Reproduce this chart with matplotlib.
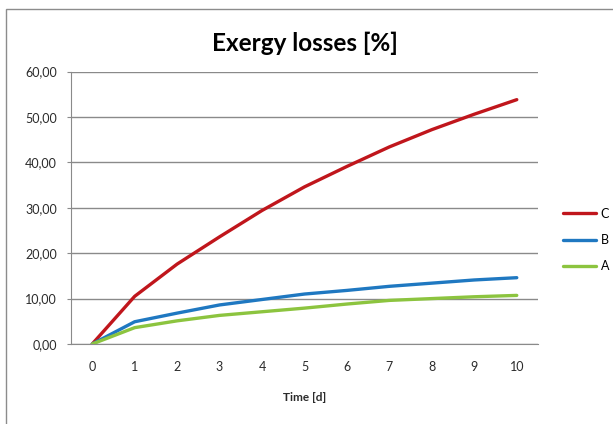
import matplotlib.pyplot as plt
from matplotlib.patches import Rectangle
from matplotlib.ticker import FuncFormatter

# Daten
days = [0, 1, 2, 3, 4, 5, 6, 7, 8, 9, 10]
loss_c = [0, 10.5, 17.6, 23.6, 29.4, 34.6, 39.1, 43.4, 47.2, 50.6, 53.8]
loss_b = [0, 4.9, 6.8, 8.6, 9.8, 11.0, 11.8, 12.7, 13.4, 14.1, 14.6]
loss_a = [0, 3.6, 5.1, 6.3, 7.1, 7.9, 8.8, 9.6, 10.0, 10.4, 10.7]

plt.rcParams['font.family'] = ['Lato', 'DejaVu Sans']

fig = plt.figure(figsize=(6.13, 4.24), dpi=100)
ax = fig.add_axes([71 / 613, 1 - 344 / 424, (538 - 71) / 613, (344 - 71.5) / 424])

# Rahmen um das Diagramm
fig.patches.append(Rectangle((6 / 613, -0.1), 1.2, 1.1 - 9 / 424, transform=fig.transFigure,
                             fill=False, edgecolor='#8c8c8c', linewidth=1.0))

ax.plot(days, loss_c, color='#c0161c', linewidth=2.4, label='C', solid_capstyle='round')
ax.plot(days, loss_b, color='#1f78c1', linewidth=2.4, label='B', solid_capstyle='round')
ax.plot(days, loss_a, color='#8cc43f', linewidth=2.4, label='A', solid_capstyle='round')

ax.set_xlim(-0.5, 10.5)
ax.set_ylim(0, 60)
ax.set_xticks(days)
ax.set_yticks(range(0, 61, 10))
ax.yaxis.set_major_formatter(FuncFormatter(lambda v, p: f'{v:.2f}'.replace('.', ',')))

ax.grid(axis='y', color='#8a8a8a', linewidth=1.0)
ax.set_axisbelow(True)
for s in ['top', 'right']:
    ax.spines[s].set_visible(False)
for s in ['left', 'bottom']:
    ax.spines[s].set_color('#8a8a8a')
ax.tick_params(axis='y', length=3, color='#8a8a8a', pad=7, labelsize=9, labelcolor='#2b2b2b')
ax.tick_params(axis='x', length=0, pad=12, labelsize=9, labelcolor='#2b2b2b')

ax.set_title('Exergy losses [%]', fontsize=17.5, fontweight='bold', pad=15)
ax.set_xlabel('Time [d]', fontsize=8.5, fontweight='bold', labelpad=14, color='#2b2b2b')

fig.legend(loc='center left', bbox_to_anchor=(552 / 613, 1 - 240 / 424), frameon=False,
           fontsize=9, handlelength=2.6, labelspacing=1.15, handletextpad=0.4)

plt.savefig('out.png', dpi=100)
